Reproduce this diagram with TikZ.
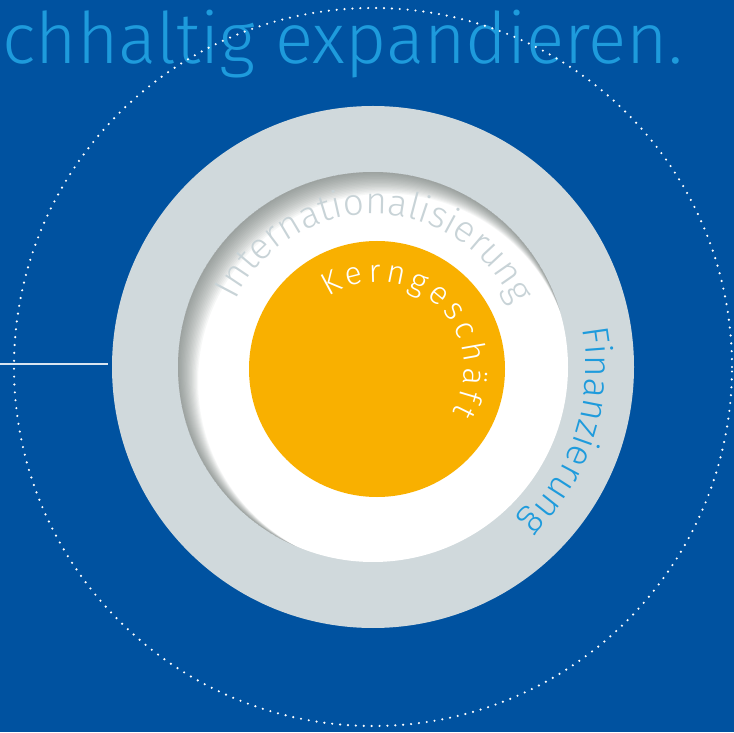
\documentclass[tikz,border=0pt]{standalone}
\usepackage{fontspec}
\setmainfont{Fira Sans Light}
\usetikzlibrary{decorations.text, calc}
\definecolor{bgblue}{RGB}{0,82,160}
\definecolor{skyblue}{RGB}{30,155,220}
\definecolor{ringgray}{RGB}{208,217,220}
\definecolor{coreorange}{RGB}{249,176,0}
\definecolor{labelgray}{RGB}{200,211,215}
\definecolor{shadowgray}{RGB}{100,110,106}

\tikzset{
  ringtext/.style={decorate, decoration={text along path, text align=center, text color=#1}},
  orbit/.style={white, line width=2.4pt, line cap=round, dash pattern=on 0pt off 7.9pt},
}

\begin{document}
\begin{tikzpicture}[x=1pt,y=1pt]
\fill[bgblue] (0,0) rectangle (734,732);
\useasboundingbox (0,0) rectangle (734,732);
\coordinate (mid) at (373,365);
\coordinate (core) at (377,363);

% Titel
\node[anchor=base east, inner sep=0pt, text=skyblue, font=\fontsize{71}{75}\selectfont] (title) at (683,668) {nachhaltig expandieren.};

% gepunkteter Kreis und Linie
\draw[orbit] (mid) circle[radius=359];
\coordinate (linestart) at (0,368);
\coordinate (lineend) at (108,368);
\draw[white!85!bgblue, line width=1.2pt] (linestart) -- (lineend);

% Ringe
\fill[ringgray] (mid) circle[radius=261];
\fill[white] (mid) circle[radius=195];
\begin{scope}
  \clip (mid) circle[radius=195];
  \foreach \k in {1,...,16}
    \fill[shadowgray, opacity=0.055, even odd rule] (mid) circle[radius=200] ($(mid)+(\k*0.8,-\k*0.9)$) circle[radius=195-\k*0.45];
\end{scope}
\fill[coreorange] (core) circle[radius=128];

% Beschriftungen
\path[ringtext=labelgray, decoration={text={|\fontsize{37}{40}\selectfont|Internationalisierung}}]
  ($(mid)+(160:153)$) arc[start angle=160, end angle=18, radius=153];
\path[ringtext=skyblue, decoration={text={|\fontsize{37}{40}\selectfont|Finanzierung}}]
  ($(mid)+(14:213)$) arc[start angle=14, end angle=-50, radius=213];
\path[ringtext=white, decoration={text align=fit to path, text={|\fontsize{32}{34}\selectfont|Kerngeschäft}}]
  ($(core)+(124:87)$) arc[start angle=124, end angle=-30, radius=87];
\end{tikzpicture}
\end{document}
